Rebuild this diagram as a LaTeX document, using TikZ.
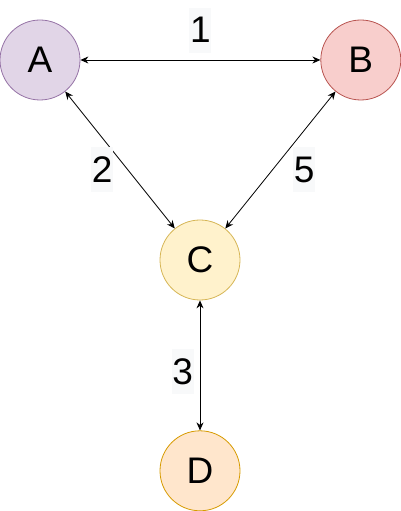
\documentclass[tikz,border=0pt]{standalone}
\usepackage{fontspec}
\setmainfont{Liberation Sans}
\usetikzlibrary{positioning,arrows.meta}

\definecolor{aFill}{HTML}{E1D5E7}
\definecolor{aLine}{HTML}{9673A6}
\definecolor{bFill}{HTML}{F8CECC}
\definecolor{bLine}{HTML}{B85450}
\definecolor{cFill}{HTML}{FFF2CC}
\definecolor{cLine}{HTML}{D6B656}
\definecolor{dFill}{HTML}{FFE6CC}
\definecolor{dLine}{HTML}{D79B00}
\definecolor{lblFill}{HTML}{F8F9FA}

\begin{document}
\begin{tikzpicture}[
    x=1pt, y=1pt,
    ball/.style={circle, draw, line width=0.8pt, minimum size=80pt, inner sep=0pt, font=\fontsize{37}{44}\selectfont},
    lbl/.style={fill=lblFill, minimum width=22pt, minimum height=45pt, inner sep=0pt, font=\fontsize{37}{44}\selectfont},
    link/.style={<->, line width=0.8pt},
    >={Stealth[length=8pt,width=7pt]}
]
\useasboundingbox (0,0) rectangle (401,511);
\node[ball, fill=aFill, draw=aLine] (A) at (40,451) {A};
\node[ball, fill=bFill, draw=bLine, right=240pt of A] (B) {B};
\node[ball, fill=cFill, draw=cLine] (C) at (200,251) {C};
\node[ball, fill=dFill, draw=dLine, below=130pt of C] (D) {D};

\draw[link] (A) -- node[lbl, above=7pt] {1} (B);
\draw[link] (A) -- node[lbl, pos=0.57, left=14pt] {2} (C);
\draw[link] (B) -- node[lbl, pos=0.57, right=20pt] {5} (C);
\draw[link] (C) -- node[lbl, pos=0.546, left=6pt] {3} (D);
\end{tikzpicture}
\end{document}
